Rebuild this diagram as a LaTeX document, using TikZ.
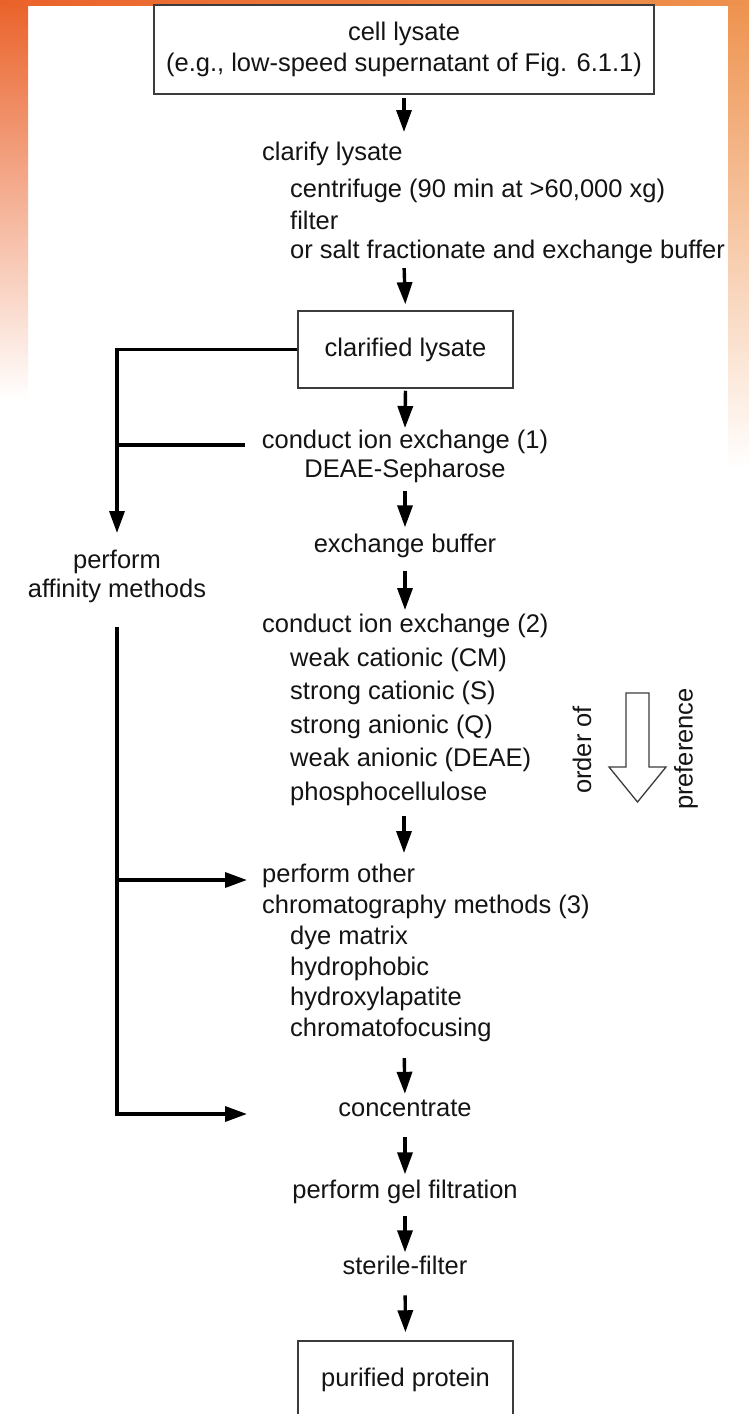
\documentclass[tikz,border=0pt]{standalone}
\usepackage{fontspec}
\setmainfont{Liberation Sans}
\usetikzlibrary{arrows.meta}

\definecolor{bgorange}{RGB}{234,98,42}
\definecolor{bgpeach}{RGB}{246,196,150}
\definecolor{bgright}{RGB}{238,146,78}
\definecolor{inkgray}{RGB}{20,20,20}
\definecolor{boxgray}{RGB}{60,60,60}

\begin{document}
\begin{tikzpicture}[x=1pt, y=-1pt]
\useasboundingbox (0,0) rectangle (749,1414);
% backdrop
\fill[white] (0,0) rectangle (749,1414);
\shade[top color=bgorange, middle color=bgpeach, bottom color=white] (0,0) rectangle (28,400);
\shade[top color=bgright, middle color=bgpeach!70, bottom color=white] (728,0) rectangle (749,470);
\shade[left color=bgorange, middle color=bgpeach!60, right color=bgright] (0,0) rectangle (749,5);

\begin{scope}[every node/.style={draw=boxgray, line width=1.5pt, text=inkgray, align=center,
              font=\fontsize{25.5}{31}\selectfont, minimum width=215pt, minimum height=77pt}]
    \node (box1) at (404,49.5) [minimum width=500pt, minimum height=89pt]
        {cell lysate\\(e.g., low-speed supernatant of Fig. 6.1.1)};
    \node (box2) at (405.5,349.5) {clarified lysate};
    \node (box3) at (405.5,1379.5) {purified protein};
\end{scope}

\begin{scope}[every node/.style={inner sep=0pt, text=inkgray, font=\fontsize{25.5}{30}\selectfont}]
    \node (clarify) at (262,142) [anchor=north west, align=left]
        {clarify lysate\\[7pt]
         \hspace*{28pt}centrifuge (90 min at >60,000 xg)\\[2pt]
         \hspace*{28pt}filter\\[-1pt]
         \hspace*{28pt}or salt fractionate and exchange buffer};
    \node (ionA) at (405,430) [anchor=north, align=center, font=\fontsize{25.5}{29}\selectfont]
        {conduct ion exchange (1)\\DEAE-Sepharose};
    \node (buffer) at (405,552) [anchor=base] {exchange buffer};
    \node (ionB) at (262,614) [anchor=north west, align=left, font=\fontsize{25.5}{33.5}\selectfont]
        {conduct ion exchange (2)\\
         \hspace*{28pt}weak cationic (CM)\\
         \hspace*{28pt}strong cationic (S)\\
         \hspace*{28pt}strong anionic (Q)\\
         \hspace*{28pt}weak anionic (DEAE)\\
         \hspace*{28pt}phosphocellulose};
    \node (chrom) at (262,864) [anchor=north west, align=left, font=\fontsize{25.5}{30.8}\selectfont]
        {perform other\\
         chromatography methods (3)\\
         \hspace*{28pt}dye matrix\\
         \hspace*{28pt}hydrophobic\\
         \hspace*{28pt}hydroxylapatite\\
         \hspace*{28pt}chromatofocusing};
    \node (conc) at (405,1116) [anchor=base] {concentrate};
    \node (gel) at (405,1198) [anchor=base] {perform gel filtration};
    \node (sterile) at (405,1274) [anchor=base] {sterile-filter};
    \node (affin) at (117,550) [anchor=north, align=center, font=\fontsize{25.5}{29}\selectfont]
        {perform\\affinity methods};
    \node (order) at (582,750) [rotate=90] {order of};
    \node (pref) at (686,749) [rotate=90] {preference};
\end{scope}

% order of preference arrow
\draw[boxgray, line width=1.3pt] (626,693) -- (649,693) -- (649,767) -- (666,767)
    -- (637.5,802) -- (609,767) -- (626,767) -- cycle;

\begin{scope}[>={Triangle[length=22pt, width=15pt]},
              every edge/.style={draw=black, line width=3.4pt}]
    \path [->] (box1.south) edge[shorten <=3pt, shorten >=10pt] (box1.south |- clarify.north);
    \path [->] (box1.south |- clarify.south) edge[shorten <=4pt, shorten >=6pt] (box2.north);
    \path [->] (box2.south) edge[shorten <=2pt, shorten >=2pt] (ionA.north);
    \path [->] (ionA.south) edge[shorten <=8pt, shorten >=6pt] (buffer.north);
    \path [->] (buffer.south) edge[shorten <=13pt, shorten >=4pt] (buffer.south |- ionB.north);
    \path [->] (box1.south |- ionB.south) edge[shorten <=10pt, shorten >=11pt] (box1.south |- chrom.north);
    \path [->] (box1.south |- chrom.south) edge[shorten <=16pt, shorten >=5.5pt] (conc.north);
    \path [->] (conc.south) edge[shorten <=21pt, shorten >=5pt] (gel.north);
    \path [->] (gel.south) edge[shorten <=12pt, shorten >=3pt] (sterile.north);
    \path [->] (sterile.south) edge[shorten <=21pt, shorten >=8pt] (box3.north);

    % affinity branch
    \coordinate (tapA) at (245,445);
    \coordinate (tapB) at (247,880);
    \coordinate (tapC) at (247,1114);
    \draw [->, line width=3.4pt, shorten >=17pt] (box2.west) -| (affin.north);
    \draw [line width=3.4pt] (tapA -| affin.north) -- (tapA);
    \draw [->, line width=3.4pt] (tapB -| affin.south) -- (tapB);
    \draw [->, line width=3.4pt, shorten <=24pt] (affin.south) |- (tapC);
\end{scope}
\end{tikzpicture}
\end{document}
